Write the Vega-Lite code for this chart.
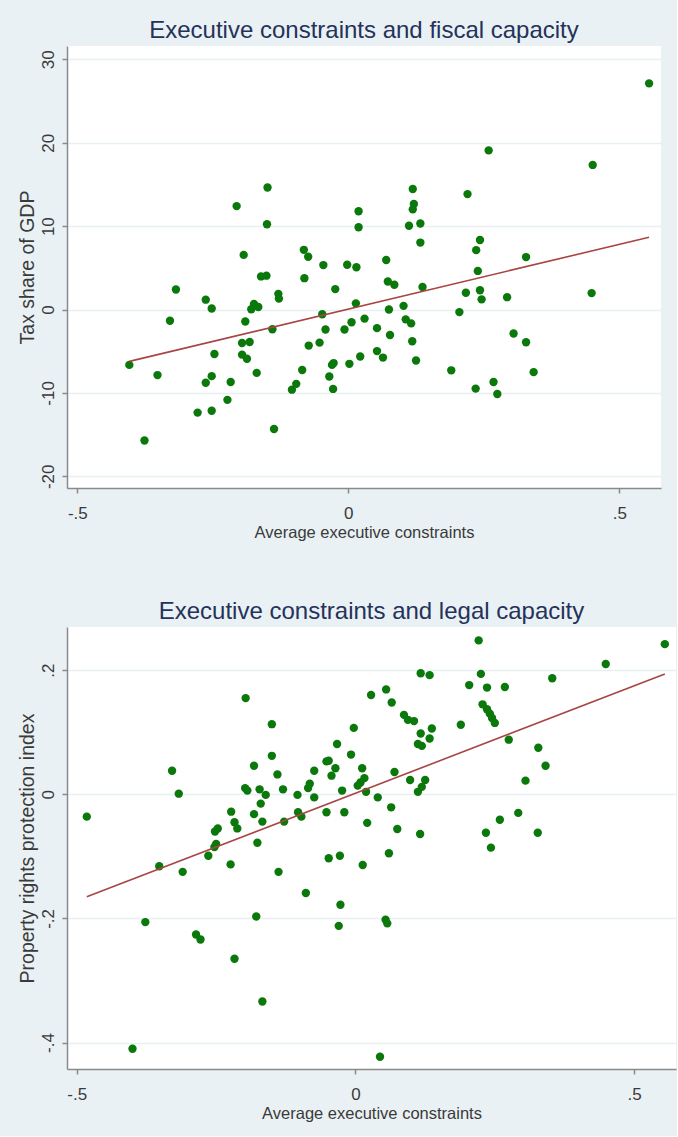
{
  "$schema": "https://vega.github.io/schema/vega-lite/v6.json",
  "background": "#e9f1f4",
  "padding": {"left": 17, "top": 19, "right": 1, "bottom": 14},
  "spacing": 59,
  "config": {
    "font": "Liberation Sans",
    "view": {"fill": "white", "stroke": null},
    "axis": {
      "domainColor": "#8a8a8a", "domainWidth": 1.5,
      "tickColor": "#8a8a8a", "tickWidth": 1.5, "tickSize": 5,
      "gridColor": "#e6eff2", "gridWidth": 1.5,
      "labelColor": "#3a3a3a", "labelFont": "Liberation Sans", "labelFontSize": 17,
      "titleFont": "Liberation Sans", "titleFontSize": 16.5, "titleFontWeight": "normal", "titleColor": "#3a3a3a"
    },
    "axisY": {"titleFontSize": 19.5},
    "title": {"font": "Liberation Sans", "fontSize": 24, "fontWeight": "normal", "color": "#25325a", "anchor": "middle"}
  },
  "datasets": {
    "fiscal": [
      {"x":-0.404,"y":-6.64},{"x":-0.376,"y":-15.7},{"x":-0.352,"y":-7.86},{"x":-0.329,"y":-1.35},{"x":-0.318,"y":2.4},{"x":-0.278,"y":-12.36},{"x":-0.263,"y":1.18},{"x":-0.263,"y":-8.78},{"x":-0.252,"y":0.13},{"x":-0.252,"y":-7.99},{"x":-0.252,"y":-12.14},{"x":-0.247,"y":-5.33},{"x":-0.223,"y":-10.83},{"x":-0.217,"y":-8.69},{"x":-0.206,"y":12.4},{"x":-0.196,"y":-4.02},{"x":-0.196,"y":-5.41},{"x":-0.193,"y":6.55},{"x":-0.19,"y":-1.44},{"x":-0.187,"y":-5.9},{"x":-0.182,"y":-3.89},{"x":-0.179,"y":0.04},{"x":-0.174,"y":0.66},{"x":-0.169,"y":-7.6},{"x":-0.166,"y":0.31},{"x":-0.161,"y":3.97},{"x":-0.151,"y":4.06},{"x":-0.149,"y":14.63},{"x":-0.15,"y":10.22},{"x":-0.14,"y":-2.36},{"x":-0.137,"y":-14.32},{"x":-0.129,"y":1.88},{"x":-0.128,"y":1.31},{"x":-0.104,"y":-9.61},{"x":-0.096,"y":-8.91},{"x":-0.085,"y":-7.25},{"x":-0.082,"y":7.16},{"x":-0.081,"y":3.76},{"x":-0.074,"y":6.33},{"x":-0.073,"y":-4.32},{"x":-0.053,"y":-3.97},{"x":-0.048,"y":-0.57},{"x":-0.046,"y":5.33},{"x":-0.042,"y":-2.4},{"x":-0.035,"y":-8.03},{"x":-0.03,"y":-6.64},{"x":-0.027,"y":-6.42},{"x":-0.028,"y":-9.52},{"x":-0.024,"y":2.45},{"x":-0.007,"y":-2.4},{"x":-0.002,"y":5.37},{"x":0.002,"y":-6.51},{"x":0.006,"y":-1.53},{"x":0.014,"y":0.74},{"x":0.015,"y":5.07},{"x":0.019,"y":11.79},{"x":0.019,"y":9.87},{"x":0.022,"y":-5.63},{"x":0.03,"y":-1.09},{"x":0.053,"y":-2.23},{"x":0.053,"y":-4.98},{"x":0.064,"y":-5.76},{"x":0.07,"y":5.94},{"x":0.073,"y":3.36},{"x":0.075,"y":0.0},{"x":0.077,"y":-3.06},{"x":0.085,"y":2.97},{"x":0.102,"y":0.44},{"x":0.106,"y":-1.18},{"x":0.112,"y":10.04},{"x":0.116,"y":-1.66},{"x":0.119,"y":14.45},{"x":0.119,"y":12.01},{"x":0.121,"y":12.66},{"x":0.118,"y":-3.8},{"x":0.125,"y":-6.11},{"x":0.133,"y":10.31},{"x":0.133,"y":8.03},{"x":0.137,"y":2.71},{"x":0.19,"y":-7.29},{"x":0.205,"y":-0.31},{"x":0.217,"y":2.01},{"x":0.22,"y":13.84},{"x":0.235,"y":-9.48},{"x":0.236,"y":7.12},{"x":0.239,"y":4.63},{"x":0.243,"y":8.34},{"x":0.243,"y":2.31},{"x":0.246,"y":1.22},{"x":0.259,"y":19.08},{"x":0.268,"y":-8.69},{"x":0.275,"y":-10.13},{"x":0.293,"y":1.48},{"x":0.305,"y":-2.88},{"x":0.328,"y":6.29},{"x":0.328,"y":-3.93},{"x":0.342,"y":-7.51},{"x":0.449,"y":1.97},{"x":0.451,"y":17.34},{"x":0.555,"y":27.12}
    ],
    "legal": [
      {"x":-0.482,"y":-0.036},{"x":-0.4,"y":-0.41},{"x":-0.377,"y":-0.206},{"x":-0.352,"y":-0.116},{"x":-0.329,"y":0.038},{"x":-0.317,"y":0.001},{"x":-0.31,"y":-0.125},{"x":-0.286,"y":-0.226},{"x":-0.278,"y":-0.234},{"x":-0.264,"y":-0.099},{"x":-0.253,"y":-0.085},{"x":-0.25,"y":-0.08},{"x":-0.252,"y":-0.06},{"x":-0.247,"y":-0.055},{"x":-0.224,"y":-0.113},{"x":-0.223,"y":-0.028},{"x":-0.217,"y":-0.045},{"x":-0.212,"y":-0.055},{"x":-0.217,"y":-0.265},{"x":-0.197,"y":0.155},{"x":-0.198,"y":0.01},{"x":-0.194,"y":0.006},{"x":-0.182,"y":0.046},{"x":-0.182,"y":-0.032},{"x":-0.178,"y":-0.197},{"x":-0.176,"y":-0.078},{"x":-0.172,"y":0.008},{"x":-0.17,"y":-0.015},{"x":-0.167,"y":-0.044},{"x":-0.161,"y":-0.001},{"x":-0.167,"y":-0.334},{"x":-0.15,"y":0.113},{"x":-0.15,"y":0.062},{"x":-0.14,"y":0.032},{"x":-0.138,"y":-0.125},{"x":-0.13,"y":0.008},{"x":-0.128,"y":-0.044},{"x":-0.104,"y":-0.001},{"x":-0.103,"y":-0.029},{"x":-0.097,"y":-0.036},{"x":-0.089,"y":-0.159},{"x":-0.085,"y":0.01},{"x":-0.082,"y":0.017},{"x":-0.074,"y":0.038},{"x":-0.074,"y":-0.005},{"x":-0.052,"y":0.053},{"x":-0.048,"y":0.054},{"x":-0.052,"y":-0.029},{"x":-0.048,"y":-0.103},{"x":-0.043,"y":0.03},{"x":-0.036,"y":0.042},{"x":-0.033,"y":0.081},{"x":-0.028,"y":-0.099},{"x":-0.027,"y":-0.178},{"x":-0.03,"y":-0.212},{"x":-0.024,"y":0.006},{"x":-0.02,"y":-0.029},{"x":-0.008,"y":0.064},{"x":-0.003,"y":0.107},{"x":0.012,"y":0.042},{"x":0.016,"y":0.026},{"x":0.009,"y":0.019},{"x":0.004,"y":0.014},{"x":0.019,"y":0.004},{"x":0.013,"y":-0.114},{"x":0.021,"y":-0.046},{"x":0.028,"y":0.16},{"x":0.04,"y":-0.005},{"x":0.044,"y":-0.423},{"x":0.055,"y":0.169},{"x":0.06,"y":-0.095},{"x":0.054,"y":-0.202},{"x":0.057,"y":-0.208},{"x":0.065,"y":0.148},{"x":0.064,"y":-0.021},{"x":0.07,"y":0.036},{"x":0.075,"y":-0.056},{"x":0.087,"y":0.128},{"x":0.094,"y":0.12},{"x":0.105,"y":0.118},{"x":0.098,"y":0.023},{"x":0.117,"y":0.195},{"x":0.133,"y":0.192},{"x":0.117,"y":0.098},{"x":0.137,"y":0.106},{"x":0.133,"y":0.09},{"x":0.112,"y":0.081},{"x":0.119,"y":0.078},{"x":0.112,"y":0.004},{"x":0.119,"y":0.012},{"x":0.125,"y":0.023},{"x":0.116,"y":-0.064},{"x":0.189,"y":0.112},{"x":0.204,"y":0.176},{"x":0.221,"y":0.248},{"x":0.225,"y":0.194},{"x":0.236,"y":0.172},{"x":0.228,"y":0.145},{"x":0.236,"y":0.137},{"x":0.241,"y":0.13},{"x":0.245,"y":0.123},{"x":0.25,"y":0.115},{"x":0.234,"y":-0.062},{"x":0.243,"y":-0.086},{"x":0.259,"y":-0.041},{"x":0.268,"y":0.173},{"x":0.275,"y":0.088},{"x":0.292,"y":-0.03},{"x":0.305,"y":0.022},{"x":0.328,"y":0.075},{"x":0.327,"y":-0.062},{"x":0.341,"y":0.046},{"x":0.353,"y":0.187},{"x":0.449,"y":0.21},{"x":0.555,"y":0.242}
    ]
  },
  "vconcat": [
    {
      "width": 594, "height": 442,
      "title": {"text": "Executive constraints and fiscal capacity", "offset": 3},
      "data": {"name": "fiscal"},
      "layer": [
        {
          "mark": {"type": "point", "filled": true, "size": 70, "color": "#0a780a", "opacity": 1},
          "encoding": {
            "x": {"field": "x", "type": "quantitative",
              "scale": {"domain": [-0.519, 0.577], "nice": false, "zero": false},
              "axis": {"values": [-0.5, 0, 0.5], "grid": false, "labelExpr": "datum.value == 0 ? '0' : replace('' + datum.value, '0.', '.')", "labelPadding": 12, "titlePadding": 3, "title": "Average executive constraints"}},
            "y": {"field": "y", "type": "quantitative",
              "scale": {"domain": [-21.4, 31.6], "nice": false, "zero": false},
              "axis": {"values": [-20, -10, 0, 10, 20, 30], "grid": true, "labelAngle": -90, "labelAlign": "center", "labelBaseline": "bottom", "labelPadding": 5, "labelExpr": "'' + datum.value", "titlePadding": 2, "title": "Tax share of GDP"}}
          }
        },
        {
          "mark": {"type": "line", "color": "#a84444", "strokeWidth": 1.6},
          "transform": [{"regression": "y", "on": "x"}],
          "encoding": {
            "x": {"field": "x", "type": "quantitative"},
            "y": {"field": "y", "type": "quantitative"}
          }
        }
      ]
    },
    {
      "width": 609, "height": 442,
      "title": {"text": "Executive constraints and legal capacity", "offset": 3},
      "data": {"name": "legal"},
      "layer": [
        {
          "mark": {"type": "point", "filled": true, "size": 70, "color": "#0a780a", "opacity": 1},
          "encoding": {
            "x": {"field": "x", "type": "quantitative",
              "scale": {"domain": [-0.5175, 0.575], "nice": false, "zero": false},
              "axis": {"values": [-0.5, 0, 0.5], "grid": false, "labelExpr": "datum.value == 0 ? '0' : replace('' + datum.value, '0.', '.')", "labelPadding": 12, "titlePadding": 3, "title": "Average executive constraints"}},
            "y": {"field": "y", "type": "quantitative",
              "scale": {"domain": [-0.4427, 0.2696], "nice": false, "zero": false},
              "axis": {"values": [-0.4, -0.2, 0, 0.2], "grid": true, "labelAngle": -90, "labelAlign": "center", "labelBaseline": "bottom", "labelPadding": 5, "labelExpr": "datum.value == 0 ? '0' : replace('' + datum.value, '0.', '.')", "titlePadding": 2, "title": "Property rights protection index"}}
          }
        },
        {
          "mark": {"type": "line", "color": "#a84444", "strokeWidth": 1.6},
          "transform": [{"regression": "y", "on": "x"}],
          "encoding": {
            "x": {"field": "x", "type": "quantitative"},
            "y": {"field": "y", "type": "quantitative"}
          }
        }
      ]
    }
  ]
}
